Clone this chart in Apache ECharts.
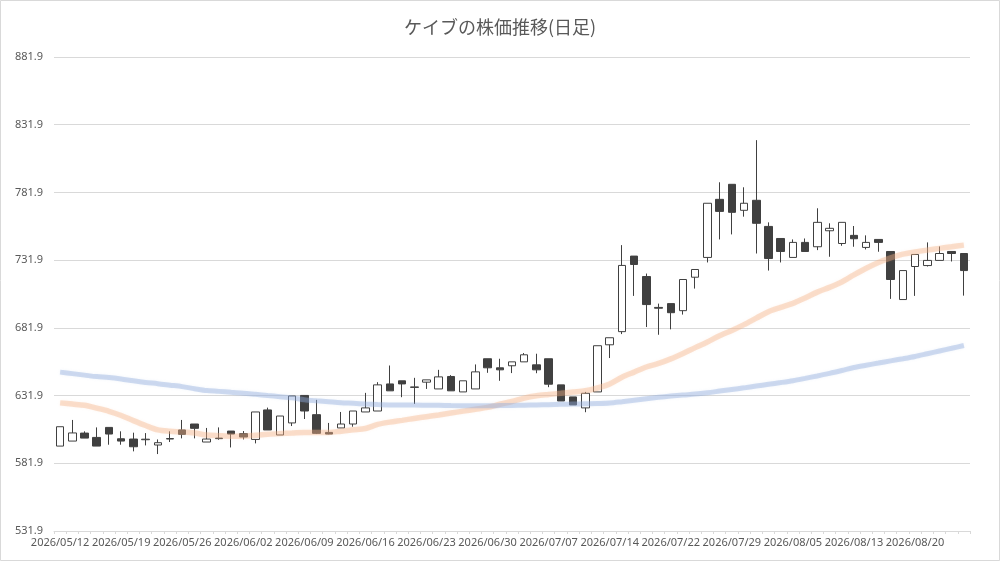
<!DOCTYPE html>
<html>
<head>
<meta charset="utf-8">
<script src="https://cdn.jsdelivr.net/npm/echarts@6/dist/echarts.min.js"></script>
<style>
  html, body { margin: 0; padding: 0; background: #fff; }
  #chart { width: 1000px; height: 561px; }
</style>
</head>
<body>
<div id="chart"></div>
<script>
// trading days (TSE calendar, holidays 07/20 and 08/11 skipped)
const dates = [
  "2026/05/12","2026/05/13","2026/05/14","2026/05/15","2026/05/18","2026/05/19","2026/05/20","2026/05/21","2026/05/22","2026/05/25",
  "2026/05/26","2026/05/27","2026/05/28","2026/05/29","2026/06/01","2026/06/02","2026/06/03","2026/06/04","2026/06/05","2026/06/08",
  "2026/06/09","2026/06/10","2026/06/11","2026/06/12","2026/06/15","2026/06/16","2026/06/17","2026/06/18","2026/06/19","2026/06/22",
  "2026/06/23","2026/06/24","2026/06/25","2026/06/26","2026/06/29","2026/06/30","2026/07/01","2026/07/02","2026/07/03","2026/07/06",
  "2026/07/07","2026/07/08","2026/07/09","2026/07/10","2026/07/13","2026/07/14","2026/07/15","2026/07/16","2026/07/17","2026/07/21",
  "2026/07/22","2026/07/23","2026/07/24","2026/07/27","2026/07/28","2026/07/29","2026/07/30","2026/07/31","2026/08/03","2026/08/04",
  "2026/08/05","2026/08/06","2026/08/07","2026/08/10","2026/08/12","2026/08/13","2026/08/14","2026/08/17","2026/08/18","2026/08/19",
  "2026/08/20","2026/08/21","2026/08/24","2026/08/25","2026/08/26"
];

const opens = [
  594.6, 598.3, 604.2, 601.0, 608.4, 600.0, 599.8, 599.3, 595.4, 599.8,
  606.5, 610.9, 597.6, 600.1, 605.7, 603.8, 599.5, 621.3, 602.8, 611.7,
  632.0, 617.8, 604.7, 608.0, 610.9, 619.8, 620.5, 640.5, 642.8, 637.9,
  641.8, 636.8, 646.0, 634.6, 636.8, 659.1, 652.4, 653.9, 656.8, 654.6,
  659.1, 639.8, 630.9, 622.8, 634.6, 669.4, 679.1, 734.9, 719.8, 697.0,
  699.8, 694.6, 719.3, 733.9, 776.8, 787.9, 768.7, 776.1, 756.8, 747.9,
  733.9, 745.0, 741.8, 753.6, 744.2, 750.2, 741.3, 747.2, 738.3, 702.8,
  727.2, 727.9, 731.7, 738.3, 736.8
];
const closes = [
  608.9, 604.3, 600.5, 594.6, 603.5, 598.3, 594.1, 599.7, 597.1, 600.2,
  603.3, 607.7, 599.8, 600.5, 603.5, 601.3, 619.8, 606.5, 616.8, 631.6,
  620.5, 604.0, 603.5, 610.9, 620.5, 622.8, 639.8, 635.4, 640.5, 638.3,
  643.5, 645.7, 635.4, 642.8, 649.4, 652.4, 650.9, 656.8, 662.0, 650.9,
  640.3, 627.9, 625.0, 633.6, 668.7, 674.6, 728.0, 728.7, 699.1, 696.4,
  693.1, 717.6, 725.0, 773.9, 767.9, 767.2, 773.9, 759.1, 733.1, 738.3,
  745.0, 738.3, 759.8, 755.4, 759.8, 747.7, 745.0, 745.0, 717.6, 724.2,
  736.1, 731.7, 736.8, 736.8, 724.2
];
const lows = [
  594.6, 598.3, 600.5, 594.6, 595.6, 595.6, 590.7, 595.1, 588.7, 597.6,
  600.3, 600.3, 597.6, 599.3, 593.6, 599.5, 596.6, 606.5, 602.8, 609.4,
  614.6, 603.5, 603.3, 608.0, 608.9, 619.8, 620.5, 635.4, 630.7, 625.7,
  636.8, 636.8, 635.4, 634.6, 636.8, 648.7, 642.8, 648.5, 656.8, 648.4,
  638.1, 627.9, 625.0, 619.6, 634.6, 659.6, 677.3, 705.5, 682.5, 676.8,
  680.8, 691.7, 710.9, 730.2, 747.2, 750.9, 764.0, 736.8, 724.2, 730.2,
  733.9, 738.3, 739.3, 734.4, 742.5, 741.8, 739.8, 738.1, 703.3, 702.8,
  705.5, 727.2, 731.7, 730.9, 705.7
];
const highs = [
  608.9, 613.9, 605.5, 608.4, 608.4, 605.5, 604.5, 604.2, 599.5, 605.5,
  613.9, 610.9, 608.0, 608.4, 605.7, 605.7, 619.8, 623.0, 616.8, 631.6,
  632.0, 628.7, 611.7, 619.8, 620.5, 633.9, 641.8, 654.1, 642.8, 645.0,
  643.5, 650.9, 647.0, 642.8, 654.9, 659.1, 659.1, 656.8, 663.3, 662.8,
  659.1, 639.8, 630.9, 634.6, 668.7, 674.6, 743.0, 734.9, 722.0, 699.8,
  699.8, 717.6, 725.0, 773.9, 789.4, 787.9, 785.7, 820.5, 759.8, 747.9,
  747.2, 747.9, 770.2, 759.1, 759.8, 757.1, 750.2, 747.2, 738.3, 724.2,
  736.1, 745.0, 742.0, 738.3, 736.8
];

// moving averages
const maShort = [
  626.5, 625.6, 624.7, 622.6, 620.3, 617.2, 613.4, 609.8, 606.6, 605.6,
  605.0, 604.2, 602.8, 602.3, 601.9, 601.9, 602.6, 603.3, 603.8, 604.2,
  604.7, 604.7, 604.7, 605.6, 606.6, 607.6, 610.6, 612.3, 613.6, 615.0,
  616.3, 617.6, 619.0, 620.4, 621.8, 623.2, 625.5, 627.5, 630.0, 631.7,
  632.7, 633.6, 634.5, 635.4, 637.5, 640.5, 645.5, 649.2, 653.0, 655.6,
  659.0, 663.0, 667.3, 671.5, 676.1, 680.0, 684.3, 689.1, 693.8, 697.0,
  700.0, 704.0, 708.3, 711.8, 715.8, 721.0, 725.9, 730.2, 733.6, 736.3,
  737.9, 739.3, 740.6, 741.8, 743.0
];
const maLong = [
  649.2, 648.1, 647.0, 645.9, 645.3, 644.2, 642.8, 641.6, 640.7, 639.6,
  638.5, 637.0, 635.6, 635.0, 634.3, 633.7, 632.8, 631.9, 631.1, 630.2,
  628.8, 628.0, 627.3, 626.6, 626.2, 625.7, 625.3, 625.0, 624.9, 624.9,
  624.8, 624.7, 624.5, 624.4, 624.4, 624.4, 624.5, 624.6, 624.8, 625.0,
  625.2, 625.4, 625.6, 625.8, 626.0, 626.4, 627.4, 628.5, 629.6, 630.6,
  631.5, 632.3, 633.0, 634.0, 635.2, 636.4, 637.6, 638.9, 640.2, 641.5,
  642.9, 644.6, 646.4, 648.3, 650.4, 652.6, 654.3, 655.9, 657.5, 659.1,
  660.8, 662.8, 664.8, 666.8, 668.9
];

const yMin = 531.9;
const yMax = 881.9;
const yStep = 50;

const ohlc = dates.map((d, i) => [opens[i], closes[i], lows[i], highs[i]]);

const chart = echarts.init(document.getElementById("chart"));

const options = {
  animation: false,
  backgroundColor: "#fff",
  title: {
    text: "ケイブの株価推移(日足)",
    left: "center",
    top: 13,
    textStyle: {
      fontFamily: "Noto Sans CJK JP",
      fontSize: 18,
      fontWeight: "normal",
      color: "#595959",
    },
  },
  graphic: [
    {
      type: "rect",
      shape: { x: 0.5, y: 0.5, width: 999, height: 560 },
      style: { fill: "none", stroke: "#d9d9d9", lineWidth: 1 },
      silent: true,
    },
  ],
  grid: { left: 54, right: 30, top: 57, bottom: 30 },
  xAxis: {
    type: "category",
    data: dates,
    boundaryGap: true,
    axisLine: { lineStyle: { color: "#d9d9d9", width: 1 } },
    axisTick: { show: true, interval: 0, length: 3, lineStyle: { color: "#d9d9d9" } },
    axisLabel: {
      interval: 4,
      margin: 6,
      color: "#595959",
      fontFamily: "Noto Sans",
      fontSize: 11,
    },
    splitLine: { show: false },
  },
  yAxis: {
    type: "value",
    min: yMin,
    max: yMax,
    interval: yStep,
    axisLine: { show: false },
    axisTick: { show: false },
    axisLabel: {
      margin: 11,
      color: "#595959",
      fontFamily: "Noto Sans",
      fontSize: 11,
      formatter: (v) => v.toFixed(1),
    },
    splitLine: { lineStyle: { color: "#d9d9d9", width: 1 } },
  },
  series: [
    {
      name: "株価",
      type: "candlestick",
      data: ohlc,
      barWidth: 8,
      itemStyle: {
        color: "#ffffff",
        color0: "#404040",
        borderColor: "#404040",
        borderColor0: "#404040",
        borderWidth: 1,
      },
    },
    {
      name: "移動平均(短期)",
      type: "line",
      data: maShort,
      showSymbol: false,
      symbol: "none",
      smooth: 0.3,
      lineStyle: {
        color: "rgba(244,177,131,0.38)",
        width: 5.5,
        shadowColor: "rgba(244,177,131,0.3)",
        shadowBlur: 3,
      },
      silent: true,
      z: 3,
    },
    {
      name: "移動平均(長期)",
      type: "line",
      data: maLong,
      showSymbol: false,
      symbol: "none",
      smooth: 0.3,
      lineStyle: {
        color: "rgba(143,170,220,0.4)",
        width: 5,
        shadowColor: "rgba(143,170,220,0.3)",
        shadowBlur: 3,
      },
      silent: true,
      z: 3,
    },
  ],
};

chart.setOption(options);
</script>
</body>
</html>
